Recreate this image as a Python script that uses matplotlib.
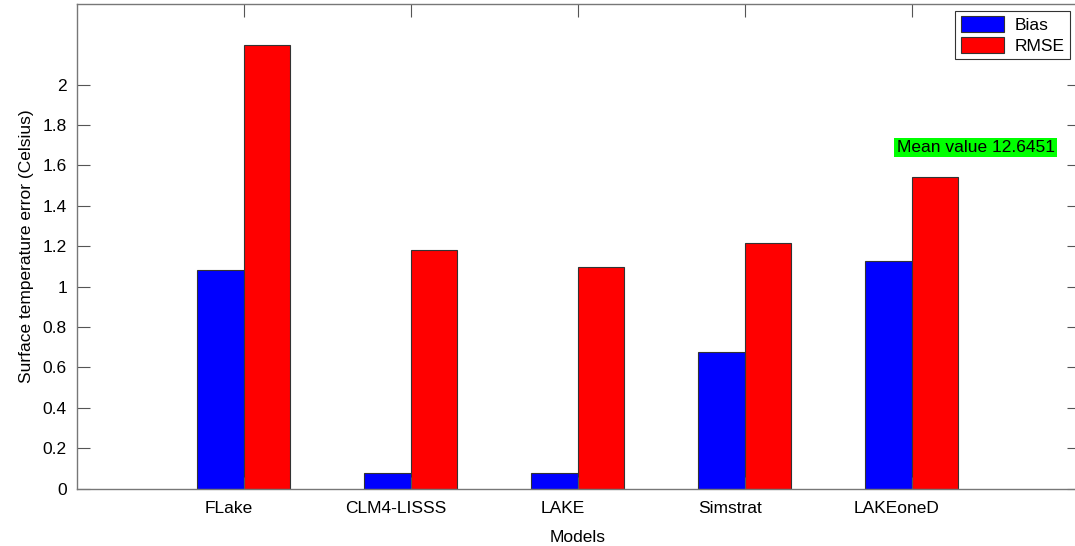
import numpy as np
import matplotlib
matplotlib.use("Agg")
import matplotlib.pyplot as plt
import matplotlib.transforms as mtransforms

# data
models = ["FLake", "CLM4-LISSS", "LAKE", "Simstrat", "LAKEoneD"]
bias = [1.083, 0.078, 0.078, 0.678, 1.127]
rmse = [2.195, 1.183, 1.099, 1.216, 1.545]
note = "Mean value 12.6451"

plt.rcParams['font.family'] = ['Liberation Sans', 'DejaVu Sans']

fig = plt.figure(figsize=(10.75, 5.46), dpi=100)
ax = fig.add_axes([0.0713, 0.105, 0.932, 0.888])

x = np.arange(1, len(models) + 1)
w = 0.28
ax.bar(x - w / 2, bias, w, color="#0000ff", edgecolor="#333333", linewidth=0.8, label="Bias")
ax.bar(x + w / 2, rmse, w, color="#ff0000", edgecolor="#333333", linewidth=0.8, label="RMSE")

ax.set_xlim(0, 6)
ax.set_ylim(0, 2.4)
ax.set_yticks(np.arange(0, 2.01, 0.2))
ax.set_yticklabels(["0", "0.2", "0.4", "0.6", "0.8", "1", "1.2", "1.4", "1.6", "1.8", "2"])
ax.set_xticks(x)
ax.set_xticklabels(models)
ax.tick_params(direction="in", length=9, width=0.8, color="#555555",
               top=True, right=True, labelsize=12.5, pad=7)
ax.tick_params(axis="x", pad=9)
shift = mtransforms.ScaledTranslation(-15 / 100, 0, fig.dpi_scale_trans)
for lab in ax.get_xticklabels():
    lab.set_transform(lab.get_transform() + shift)

for s in ax.spines.values():
    s.set_color("#777777")
    s.set_linewidth(1.0)

ax.set_xlabel("Models", fontsize=12.5, labelpad=10)
ax.set_ylabel("Surface temperature error (Celsius)", fontsize=12.5, labelpad=6)

leg = ax.legend(loc="upper right", fontsize=12.5, frameon=True, fancybox=False,
                handlelength=2.5, handleheight=1.0, borderaxespad=0.4,
                borderpad=0.3, labelspacing=0.25, handletextpad=0.6,
                bbox_to_anchor=(0.998, 1.0))
leg.get_frame().set_edgecolor("black")
leg.get_frame().set_linewidth(0.8)

ax.text(4.91, 1.687, note, fontsize=12.5, va="center", ha="left",
        bbox=dict(facecolor="#00ff00", edgecolor="none", pad=1.5))

fig.savefig("out.png", dpi=100)
